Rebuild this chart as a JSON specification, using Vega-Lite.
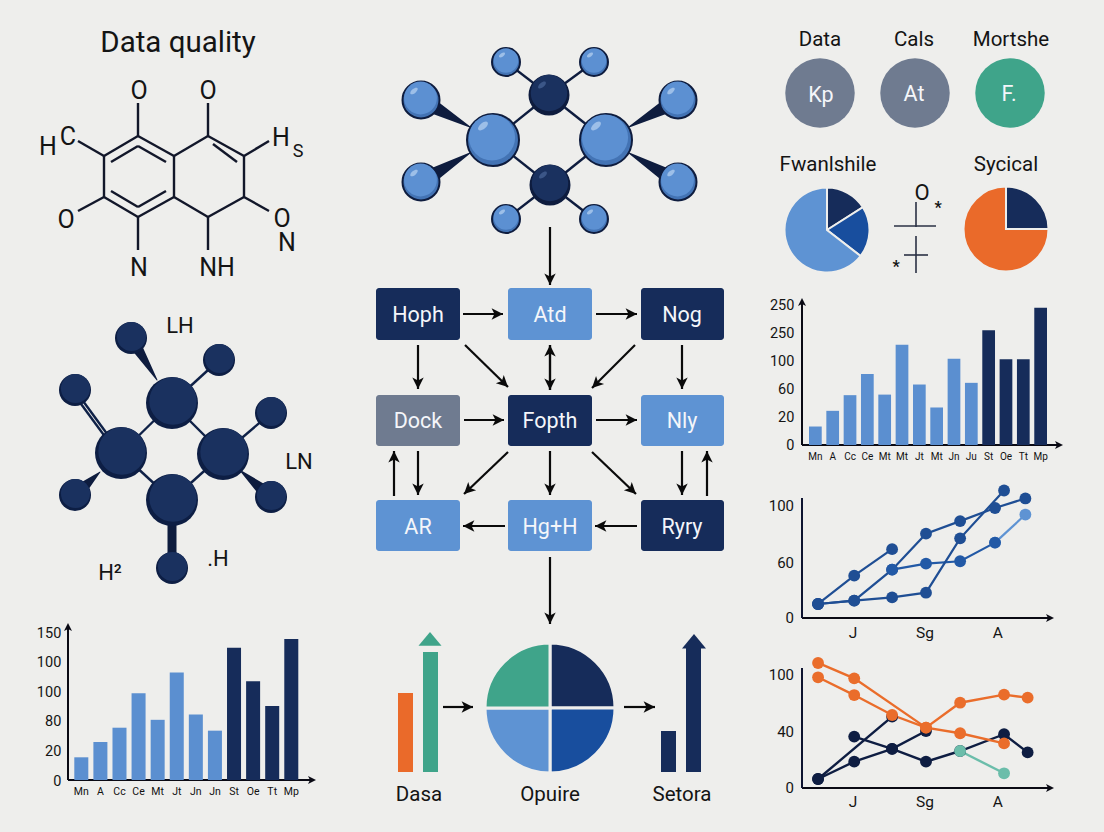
{"$schema":"https://vega.github.io/schema/vega-lite/v6.json","width":1104,"height":832,"padding":0,"autosize":"none","background":"#EEEEEC","config":{"view":{"stroke":null},"point":{"opacity":1,"filled":true},"text":{"font":"Roboto","color":"#141414","dy":1.5}},"resolve":{"scale":{"x":"independent","y":"independent","color":"independent"}},"layer":[
{"encoding":{"x":{"field":"x","type":"quantitative","scale":{"domain":[0,1104],"range":[0,1104]},"axis":null},"y":{"field":"y","type":"quantitative","scale":{"domain":[0,832],"range":[0,832]},"axis":null}},"layer":[
{"data":{"values":[{"x":138,"y":136,"x2":174,"y2":156},{"x":174,"y":156,"x2":174,"y2":197},{"x":174,"y":197,"x2":138,"y2":217},{"x":138,"y":217,"x2":104,"y2":197},{"x":104,"y":197,"x2":104,"y2":156},{"x":104,"y":156,"x2":138,"y2":136},{"x":174,"y":156,"x2":208,"y2":136},{"x":208,"y":136,"x2":244,"y2":156},{"x":244,"y":156,"x2":244,"y2":197},{"x":244,"y":197,"x2":208,"y2":217},{"x":208,"y":217,"x2":174,"y2":197},{"x":111,"y":162,"x2":138,"y2":146},{"x":138,"y":146,"x2":166,"y2":162},{"x":111,"y":191,"x2":138,"y2":207},{"x":166,"y":191,"x2":138,"y2":207},{"x":213,"y":144,"x2":237,"y2":162},{"x":138,"y":103,"x2":138,"y2":136},{"x":208,"y":103,"x2":208,"y2":136},{"x":78,"y":141,"x2":104,"y2":156},{"x":269,"y":141,"x2":244,"y2":156},{"x":78,"y":211,"x2":104,"y2":197},{"x":269,"y":211,"x2":244,"y2":197},{"x":138,"y":250,"x2":138,"y2":217},{"x":208,"y":250,"x2":208,"y2":217}]},"mark":{"type":"rule","color":"#12172A","strokeWidth":2.4},"encoding":{"x2":{"field":"x2"},"y2":{"field":"y2"}}},
{"data":{"values":[{"x":178,"y":41,"t":"Data quality"}]},"mark":{"type":"text","fontSize":29.5},"encoding":{"text":{"field":"t"}}},
{"data":{"values":[{"x":139,"y":89,"t":"O"},{"x":208,"y":89,"t":"O"},{"x":48,"y":145,"t":"H"},{"x":68,"y":135,"t":"C"},{"x":281,"y":136,"t":"H"},{"x":66,"y":218,"t":"O"},{"x":282,"y":217,"t":"O"},{"x":287,"y":241,"t":"N"},{"x":139,"y":266,"t":"N"},{"x":217,"y":266,"t":"NH"}]},"mark":{"type":"text","fontSize":25},"encoding":{"text":{"field":"t"}}},
{"data":{"values":[{"x":298,"y":150,"t":"S"}]},"mark":{"type":"text","fontSize":18},"encoding":{"text":{"field":"t"}}},
{"data":{"values":[{"x":172,"y":403,"x2":121,"y2":453},{"x":172,"y":403,"x2":223,"y2":454},{"x":121,"y":453,"x2":172,"y2":500},{"x":223,"y":454,"x2":172,"y2":500},{"x":172,"y":403,"x2":219,"y2":360},{"x":223,"y":454,"x2":271,"y2":413},{"x":121,"y":453,"x2":75,"y2":390},{"x":117,"y":453,"x2":73,"y2":393}]},"mark":{"type":"rule","color":"#0F2147","strokeWidth":2.4},"encoding":{"x2":{"field":"x2"},"y2":{"field":"y2"}}},
{"data":{"values":[{"id":"a","x":157,"y":380,"w":1},{"id":"a","x":131,"y":338,"w":14},{"id":"b","x":100,"y":472,"w":1},{"id":"b","x":75,"y":495,"w":16},{"id":"c","x":242,"y":472,"w":2},{"id":"c","x":271,"y":497,"w":16},{"id":"d","x":172,"y":520,"w":9},{"id":"d","x":172,"y":568,"w":9},{"id":"e","x":470,"y":127,"w":1},{"id":"e","x":421,"y":100,"w":18},{"id":"f","x":470,"y":153,"w":1},{"id":"f","x":421,"y":182,"w":18},{"id":"g","x":629,"y":127,"w":1},{"id":"g","x":678,"y":100,"w":18},{"id":"h","x":629,"y":153,"w":1},{"id":"h","x":678,"y":182,"w":18}]},"mark":{"type":"trail","color":"#0E1C3E"},"encoding":{"detail":{"field":"id"},"size":{"field":"w","type":"quantitative","scale":null,"legend":null}}},
{"data":{"name":"leftBig","values":[{"x":172,"y":403},{"x":121,"y":453},{"x":223,"y":454},{"x":172,"y":500}]},"mark":{"type":"point","shape":"circle","size":2704,"fill":"#0D1E44"}},
{"data":{"name":"leftBig"},"mark":{"type":"point","shape":"circle","size":2250,"fill":"#1A315F","xOffset":1,"yOffset":-2}},
{"data":{"name":"leftSmall","values":[{"x":131,"y":338},{"x":219,"y":360},{"x":75,"y":390},{"x":271,"y":413},{"x":75,"y":495},{"x":271,"y":497},{"x":172,"y":568}]},"mark":{"type":"point","shape":"circle","size":1024,"fill":"#0D1E44"}},
{"data":{"name":"leftSmall"},"mark":{"type":"point","shape":"circle","size":850,"fill":"#1A315F","xOffset":0.5,"yOffset":-1.5}},
{"data":{"values":[{"x":180,"y":324,"t":"LH"},{"x":299,"y":460,"t":"LN"},{"x":110,"y":571,"t":"H²"},{"x":218,"y":557,"t":".H"}]},"mark":{"type":"text","fontSize":22},"encoding":{"text":{"field":"t"}}},
{"data":{"values":[{"x":493,"y":140,"x2":549,"y2":95},{"x":606,"y":140,"x2":549,"y2":95},{"x":493,"y":140,"x2":550,"y2":185},{"x":606,"y":140,"x2":550,"y2":185},{"x":549,"y":95,"x2":506,"y2":62},{"x":549,"y":95,"x2":594,"y2":62},{"x":550,"y":185,"x2":506,"y2":219},{"x":550,"y":185,"x2":594,"y2":219}]},"mark":{"type":"rule","color":"#0E1C3E","strokeWidth":2.4},"encoding":{"x2":{"field":"x2"},"y2":{"field":"y2"}}},
{"data":{"name":"cBig","values":[{"x":493,"y":140},{"x":606,"y":140}]},"mark":{"type":"point","shape":"circle","size":2704,"fill":"#4373B4","stroke":"#0E1C3E","strokeWidth":2}},
{"data":{"name":"cBig"},"mark":{"type":"point","shape":"circle","size":2130,"fill":"#5C90D2","xOffset":-1,"yOffset":-2.5}},
{"data":{"name":"cBig"},"mark":{"type":"point","shape":"M-1,0A1,0.5 0 1 0 1,0A1,0.5 0 1 0 -1,0Z","size":144,"fill":"#9DBFE8","angle":-40,"xOffset":-10,"yOffset":-14}},
{"data":{"name":"cOut","values":[{"x":421,"y":100},{"x":421,"y":182},{"x":678,"y":100},{"x":678,"y":182}]},"mark":{"type":"point","shape":"circle","size":1369,"fill":"#4373B4","stroke":"#0E1C3E","strokeWidth":2}},
{"data":{"name":"cOut"},"mark":{"type":"point","shape":"circle","size":1080,"fill":"#5C90D2","xOffset":-0.5,"yOffset":-2}},
{"data":{"name":"cOut"},"mark":{"type":"point","shape":"M-1,0A1,0.5 0 1 0 1,0A1,0.5 0 1 0 -1,0Z","size":81,"fill":"#9DBFE8","angle":-40,"xOffset":-7,"yOffset":-9}},
{"data":{"name":"cSmall","values":[{"x":506,"y":62},{"x":594,"y":62},{"x":506,"y":219},{"x":594,"y":219}]},"mark":{"type":"point","shape":"circle","size":784,"fill":"#4373B4","stroke":"#0E1C3E","strokeWidth":2}},
{"data":{"name":"cSmall"},"mark":{"type":"point","shape":"circle","size":600,"fill":"#5C90D2","yOffset":-1.5}},
{"data":{"name":"cSmall"},"mark":{"type":"point","shape":"M-1,0A1,0.5 0 1 0 1,0A1,0.5 0 1 0 -1,0Z","size":49,"fill":"#9DBFE8","angle":-35,"xOffset":-4,"yOffset":-7}},
{"data":{"name":"cDark","values":[{"x":549,"y":95},{"x":550,"y":185}]},"mark":{"type":"point","shape":"circle","size":1681,"fill":"#0E1C3E"}},
{"data":{"name":"cDark"},"mark":{"type":"point","shape":"circle","size":1330,"fill":"#1A315F","yOffset":-2}},
{"data":{"name":"cDark"},"mark":{"type":"point","shape":"M-1,0A1,0.5 0 1 0 1,0A1,0.5 0 1 0 -1,0Z","size":90,"fill":"#3B5687","angle":-40,"xOffset":-7,"yOffset":-10}},
{"data":{"values":[{"x":376,"x2":460,"y":288,"y2":340,"c":"dark"},{"x":508,"x2":592,"y":288,"y2":340,"c":"light"},{"x":641,"x2":724,"y":288,"y2":340,"c":"dark"},{"x":376,"x2":460,"y":395,"y2":446,"c":"grey"},{"x":508,"x2":592,"y":395,"y2":446,"c":"dark"},{"x":641,"x2":724,"y":395,"y2":446,"c":"light"},{"x":376,"x2":460,"y":500,"y2":551,"c":"light"},{"x":508,"x2":592,"y":500,"y2":551,"c":"light"},{"x":641,"x2":724,"y":500,"y2":551,"c":"dark"}]},"mark":{"type":"rect","cornerRadius":3},"encoding":{"x2":{"field":"x2"},"y2":{"field":"y2"},"color":{"field":"c","type":"nominal","scale":{"domain":["dark","light","grey","orange","green"],"range":["#162C5A","#5E93D3","#6F7B90","#EA6A2A","#3FA48A"]},"legend":null}}},
{"data":{"name":"arrows","values":[{"x":550,"y":227,"x2":550,"y2":285,"a":180},{"x":463,"y":314,"x2":503,"y2":314,"a":90},{"x":596,"y":314,"x2":637,"y2":314,"a":90},{"x":418,"y":345,"x2":418,"y2":389,"a":180},{"x":465,"y":345,"x2":508,"y2":387,"a":134},{"x":550,"y":345,"x2":550,"y2":390,"a":180},{"x":550,"y":390,"x2":550,"y2":345,"a":0},{"x":635,"y":345,"x2":592,"y2":388,"a":225},{"x":682,"y":345,"x2":682,"y2":389,"a":180},{"x":464,"y":420,"x2":504,"y2":420,"a":90},{"x":596,"y":420,"x2":637,"y2":420,"a":90},{"x":394,"y":496,"x2":394,"y2":451,"a":0},{"x":418,"y":451,"x2":418,"y2":495,"a":180},{"x":508,"y":452,"x2":464,"y2":494,"a":226},{"x":550,"y":451,"x2":550,"y2":495,"a":180},{"x":592,"y":452,"x2":636,"y2":494,"a":134},{"x":682,"y":451,"x2":682,"y2":495,"a":180},{"x":707,"y":496,"x2":707,"y2":451,"a":0},{"x":505,"y":526,"x2":463,"y2":526,"a":270},{"x":637,"y":526,"x2":595,"y2":526,"a":270},{"x":550,"y":557,"x2":550,"y2":624,"a":180},{"x":443,"y":707,"x2":473,"y2":707,"a":90},{"x":624,"y":707,"x2":655,"y2":707,"a":90}]},"mark":{"type":"rule","color":"#0A0A0A","strokeWidth":2.2},"encoding":{"x2":{"field":"x2"},"y2":{"field":"y2"}}},
{"data":{"name":"arrows"},"mark":{"type":"point","shape":"M0,0L1,2L0,1.5L-1,2Z","size":130,"fill":"#0A0A0A"},"encoding":{"x":{"field":"x2","type":"quantitative"},"y":{"field":"y2","type":"quantitative"},"angle":{"field":"a","type":"quantitative","scale":null}}},
{"data":{"values":[{"x":398,"x2":413,"y":693,"y2":772,"c":"orange"},{"x":423,"x2":438,"y":652,"y2":772,"c":"green"},{"x":661,"x2":676,"y":731,"y2":772,"c":"dark"},{"x":686,"x2":701,"y":648,"y2":772,"c":"dark"}]},"mark":{"type":"rect"},"encoding":{"x2":{"field":"x2"},"y2":{"field":"y2"},"color":{"field":"c","type":"nominal","scale":{"domain":["dark","light","grey","orange","green"],"range":["#162C5A","#5E93D3","#6F7B90","#EA6A2A","#3FA48A"]},"legend":null}}},
{"data":{"values":[{"x":430,"y":632}]},"mark":{"type":"point","shape":"M0,0L1,1.2L-1,1.2Z","size":529,"fill":"#3FA48A"}},
{"data":{"values":[{"x":694,"y":634}]},"mark":{"type":"point","shape":"M0,0L1,1.2L-1,1.2Z","size":576,"fill":"#162C5A"}},
{"data":{"values":[{"x":419,"y":793,"t":"Dasa"},{"x":550,"y":793,"t":"Opuire"},{"x":682,"y":793,"t":"Setora"},{"x":820,"y":38,"t":"Data"},{"x":914,"y":38,"t":"Cals"},{"x":1011,"y":38,"t":"Mortshe"},{"x":828,"y":163,"t":"Fwanlshile"},{"x":1006,"y":163,"t":"Sycical"}]},"mark":{"type":"text","fontSize":20.5},"encoding":{"text":{"field":"t"}}},
{"data":{"values":[{"x":820,"y":93,"c":"grey"},{"x":915,"y":93,"c":"grey"},{"x":1010,"y":93,"c":"green"}]},"mark":{"type":"point","shape":"circle","size":4830},"encoding":{"color":{"field":"c","type":"nominal","scale":{"domain":["dark","light","grey","orange","green"],"range":["#162C5A","#5E93D3","#6F7B90","#EA6A2A","#3FA48A"]},"legend":null}}},
{"data":{"values":[{"x":418,"y":314,"t":"Hoph"},{"x":550,"y":314,"t":"Atd"},{"x":682,"y":314,"t":"Nog"},{"x":418,"y":420,"t":"Dock"},{"x":550,"y":420,"t":"Fopth"},{"x":682,"y":420,"t":"Nly"},{"x":418,"y":526,"t":"AR"},{"x":550,"y":526,"t":"Hg+H"},{"x":682,"y":526,"t":"Ryry"},{"x":821,"y":94,"t":"Kp"},{"x":914,"y":93,"t":"At"},{"x":1009,"y":93,"t":"F."}]},"mark":{"type":"text","fontSize":21.5,"color":"#F4F6FA"},"encoding":{"text":{"field":"t"}}},
{"data":{"values":[{"x":916,"y":202,"x2":916,"y2":227},{"x":894,"y":226,"x2":936,"y2":226},{"x":916,"y":236,"x2":916,"y2":273},{"x":904,"y":255,"x2":928,"y2":255}]},"mark":{"type":"rule","color":"#2A3045","strokeWidth":1.6},"encoding":{"x2":{"field":"x2"},"y2":{"field":"y2"}}},
{"data":{"values":[{"x":922,"y":191,"t":"O"}]},"mark":{"type":"text","fontSize":22},"encoding":{"text":{"field":"t"}}},
{"data":{"values":[{"x":938,"y":206,"t":"*"},{"x":896,"y":265,"t":"*"}]},"mark":{"type":"text","fontSize":16,"fontWeight":700},"encoding":{"text":{"field":"t"}}},
{"data":{"name":"axes","values":[{"x":68,"y":780,"x2":68,"y2":626,"a":0},{"x":68,"y":780,"x2":314,"y2":780,"a":90},{"x":802,"y":445,"x2":802,"y2":300,"a":0},{"x":802,"y":445,"x2":1061,"y2":445,"a":90},{"x":802,"y":618,"x2":1052,"y2":618,"a":90},{"x":802,"y":788,"x2":1052,"y2":788,"a":90}]},"mark":{"type":"rule","color":"#0A0A14","strokeWidth":2},"encoding":{"x2":{"field":"x2"},"y2":{"field":"y2"}}},
{"data":{"values":[{"x":802,"y":618,"x2":802,"y2":498},{"x":802,"y":788,"x2":802,"y2":668}]},"mark":{"type":"rule","color":"#0E1430","strokeWidth":2},"encoding":{"x2":{"field":"x2"},"y2":{"field":"y2"}}},
{"data":{"values":[{"x":68,"y":623,"a":0},{"x":316,"y":780,"a":90},{"x":802,"y":298,"a":0},{"x":1063,"y":445,"a":90},{"x":1054,"y":618,"a":90},{"x":1054,"y":788,"a":90}]},"mark":{"type":"point","shape":"M0,0L1,2L0,1.5L-1,2Z","size":64,"fill":"#0A0A14"},"encoding":{"angle":{"field":"a","type":"quantitative","scale":null}}}
]},
{"data":{"values":[{"x":550,"y":708,"t0":0,"t1":0.25,"c":"dark"},{"x":550,"y":708,"t0":0.25,"t1":0.5,"c":"mid"},{"x":550,"y":708,"t0":0.5,"t1":0.75,"c":"light"},{"x":550,"y":708,"t0":0.75,"t1":1,"c":"green"}]},"mark":{"type":"arc","radius":65,"stroke":"#EEEEEC","strokeWidth":3},"encoding":{"x":{"field":"x","type":"quantitative","scale":{"domain":[0,1104],"range":[0,1104]},"axis":null},"y":{"field":"y","type":"quantitative","scale":{"domain":[0,832],"range":[0,832]},"axis":null},"theta":{"field":"t0","type":"quantitative","scale":{"domain":[0,1],"range":[0,6.2832]}},"theta2":{"field":"t1"},"color":{"field":"c","type":"nominal","scale":{"domain":["dark","mid","light","green"],"range":["#162C5A","#184E9E","#5E93D3","#3FA48A"]},"legend":null}}},
{"data":{"values":[{"x":827,"y":230,"t0":0,"t1":0.16,"c":"dark"},{"x":827,"y":230,"t0":0.16,"t1":0.355,"c":"mid"},{"x":827,"y":230,"t0":0.355,"t1":1,"c":"light"}]},"mark":{"type":"arc","radius":42.5,"stroke":"#EEEEEC","strokeWidth":2},"encoding":{"x":{"field":"x","type":"quantitative","scale":{"domain":[0,1104],"range":[0,1104]},"axis":null},"y":{"field":"y","type":"quantitative","scale":{"domain":[0,832],"range":[0,832]},"axis":null},"theta":{"field":"t0","type":"quantitative","scale":{"domain":[0,1],"range":[0,6.2832]}},"theta2":{"field":"t1"},"color":{"field":"c","type":"nominal","scale":{"domain":["dark","mid","light"],"range":["#162C5A","#184E9E","#5E93D3"]},"legend":null}}},
{"data":{"values":[{"x":1006,"y":229,"t0":0,"t1":0.25,"c":"dark"},{"x":1006,"y":229,"t0":0.25,"t1":1,"c":"orange"}]},"mark":{"type":"arc","radius":42.5,"stroke":"#EEEEEC","strokeWidth":2},"encoding":{"x":{"field":"x","type":"quantitative","scale":{"domain":[0,1104],"range":[0,1104]},"axis":null},"y":{"field":"y","type":"quantitative","scale":{"domain":[0,832],"range":[0,832]},"axis":null},"theta":{"field":"t0","type":"quantitative","scale":{"domain":[0,1],"range":[0,6.2832]}},"theta2":{"field":"t1"},"color":{"field":"c","type":"nominal","scale":{"domain":["dark","orange"],"range":["#162C5A","#EA6A2A"]},"legend":null}}},
{"encoding":{"x":{"field":"m","type":"ordinal","scale":{"type":"band","domain":["1","2","3","4","5","6","7","8","9","10","11","12"],"range":[74.3,298.3],"paddingInner":0.266,"paddingOuter":0},"axis":null},"y":{"field":"v","type":"quantitative","scale":{"domain":[0,150],"range":[780,632]},"axis":null}},"layer":[
{"data":{"name":"barsA","values":[{"m":"1","lab":"Mn","v":23,"g":"a"},{"m":"2","lab":"A","v":38.5,"g":"a"},{"m":"3","lab":"Cc","v":53,"g":"a"},{"m":"4","lab":"Ce","v":88,"g":"a"},{"m":"5","lab":"Mt","v":61,"g":"a"},{"m":"6","lab":"Jt","v":109,"g":"a"},{"m":"7","lab":"Jn","v":66.5,"g":"a"},{"m":"8","lab":"Jn","v":50,"g":"a"},{"m":"9","lab":"St","v":134,"g":"b"},{"m":"10","lab":"Oe","v":100,"g":"b"},{"m":"11","lab":"Tt","v":75,"g":"b"},{"m":"12","lab":"Mp","v":143,"g":"b"}]},"mark":{"type":"bar"},"encoding":{"color":{"field":"g","type":"nominal","scale":{"domain":["a","b"],"range":["#5B8FD0","#162C5A"]},"legend":null}}},
{"data":{"name":"barsA"},"mark":{"type":"text","fontSize":10.5,"dy":12,"color":"#111"},"encoding":{"y":{"datum":0},"text":{"field":"lab"}}},
{"data":{"values":[{"m":"1","v":0,"lab":"0"},{"m":"1","v":30,"lab":"20"},{"m":"1","v":60,"lab":"80"},{"m":"1","v":90,"lab":"100"},{"m":"1","v":120,"lab":"100"},{"m":"1","v":150,"lab":"150"}]},"mark":{"type":"text","fontSize":14.5,"align":"right","dx":-20},"encoding":{"text":{"field":"lab"}}}
]},
{"encoding":{"x":{"field":"m","type":"ordinal","scale":{"type":"band","domain":["1","2","3","4","5","6","7","8","9","10","11","12","13","14"],"range":[809,1047],"paddingInner":0.266,"paddingOuter":0},"axis":null},"y":{"field":"v","type":"quantitative","scale":{"domain":[0,250],"range":[445,305]},"axis":null}},"layer":[
{"data":{"name":"barsB","values":[{"m":"1","lab":"Mn","v":33,"g":"a"},{"m":"2","lab":"A","v":61,"g":"a"},{"m":"3","lab":"Cc","v":89,"g":"a"},{"m":"4","lab":"Ce","v":127,"g":"a"},{"m":"5","lab":"Mt","v":90,"g":"a"},{"m":"6","lab":"Mt","v":179,"g":"a"},{"m":"7","lab":"Jt","v":108,"g":"a"},{"m":"8","lab":"Mt","v":67,"g":"a"},{"m":"9","lab":"Jn","v":154,"g":"a"},{"m":"10","lab":"Ju","v":111,"g":"a"},{"m":"11","lab":"St","v":205,"g":"b"},{"m":"12","lab":"Oe","v":153,"g":"b"},{"m":"13","lab":"Tt","v":153,"g":"b"},{"m":"14","lab":"Mp","v":245,"g":"b"}]},"mark":{"type":"bar"},"encoding":{"color":{"field":"g","type":"nominal","scale":{"domain":["a","b"],"range":["#5B8FD0","#162C5A"]},"legend":null}}},
{"data":{"name":"barsB"},"mark":{"type":"text","fontSize":10,"dy":12,"color":"#111"},"encoding":{"y":{"datum":0},"text":{"field":"lab"}}},
{"data":{"values":[{"m":"1","v":0,"lab":"0"},{"m":"1","v":50,"lab":"20"},{"m":"1","v":100,"lab":"60"},{"m":"1","v":150,"lab":"100"},{"m":"1","v":200,"lab":"250"},{"m":"1","v":250,"lab":"250"}]},"mark":{"type":"text","fontSize":14.5,"align":"right","dx":-21,"dy":0.5},"encoding":{"text":{"field":"lab"}}}
]},
{"encoding":{"x":{"field":"t","type":"quantitative","scale":{"domain":[0,100],"range":[802,1053]},"axis":null},"y":{"field":"v","type":"quantitative","scale":{"domain":[0,60,100],"range":[618,563,506]},"axis":null}},"layer":[
{"data":{"name":"lineA","values":[{"s":"E","t":76.9,"v":74.3},{"s":"E","t":89,"v":94},{"s":"A","t":6.4,"v":15.3},{"s":"A","t":20.8,"v":46.2},{"s":"A","t":35.9,"v":69.7},{"s":"B","t":6.4,"v":15.3},{"s":"B","t":20.8,"v":18.9},{"s":"B","t":35.9,"v":52.7},{"s":"B","t":49.4,"v":80.6},{"s":"B","t":63,"v":89.4},{"s":"B","t":76.9,"v":98.6},{"s":"B","t":89,"v":105.3},{"s":"C","t":35.9,"v":52.7},{"s":"C","t":49.4,"v":59.3},{"s":"C","t":63,"v":61.2},{"s":"C","t":76.9,"v":74.3},{"s":"D","t":6.4,"v":15.3},{"s":"D","t":20.8,"v":18.9},{"s":"D","t":35.9,"v":22.5},{"s":"D","t":49.4,"v":27.6},{"s":"D","t":63,"v":77.3},{"s":"D","t":80.5,"v":110.9}]},"mark":{"type":"line","strokeWidth":2.2},"encoding":{"color":{"field":"s","type":"nominal","scale":{"domain":["A","B","C","D","E"],"range":["#1F4E94","#1F4E94","#2259A6","#1F4E94","#5E93D3"]},"legend":null}}},
{"data":{"name":"lineA"},"mark":{"type":"point","shape":"circle","size":140},"encoding":{"color":{"field":"s","type":"nominal","scale":{"domain":["A","B","C","D","E"],"range":["#1F4E94","#1F4E94","#2259A6","#1F4E94","#5E93D3"]},"legend":null}}},
{"data":{"values":[{"t":0,"v":0,"lab":"0"},{"t":0,"v":60,"lab":"60"},{"t":0,"v":100,"lab":"100"}]},"mark":{"type":"text","fontSize":15,"align":"right","dx":-8,"dy":0},"encoding":{"text":{"field":"lab"}}},
{"data":{"values":[{"t":20.3,"v":0,"lab":"J"},{"t":49,"v":0,"lab":"Sg"},{"t":78,"v":0,"lab":"A"}]},"mark":{"type":"text","fontSize":15.5,"dy":15},"encoding":{"text":{"field":"lab"}}}
]},
{"encoding":{"x":{"field":"t","type":"quantitative","scale":{"domain":[0,100],"range":[802,1053]},"axis":null},"y":{"field":"v","type":"quantitative","scale":{"domain":[0,40,100],"range":[787.7,732.3,675]},"axis":null}},"layer":[
{"data":{"name":"lineB","values":[{"s":"D1","t":6.4,"v":6.3},{"s":"D1","t":35.9,"v":56.4},{"s":"D2","t":6.4,"v":6.3},{"s":"D2","t":20.8,"v":18.8},{"s":"D2","t":35.9,"v":28},{"s":"D2","t":49.4,"v":41.4},{"s":"D3","t":20.8,"v":36.9},{"s":"D3","t":35.9,"v":28},{"s":"D3","t":49.4,"v":18.8},{"s":"D3","t":63,"v":26.5},{"s":"D3","t":80.5,"v":38.6},{"s":"D3","t":89.9,"v":25.5},{"s":"T","t":63,"v":26.5},{"s":"T","t":80.5,"v":10.4},{"s":"O1","t":6.4,"v":112.6},{"s":"O1","t":20.8,"v":96.5},{"s":"O1","t":49.4,"v":44.9},{"s":"O1","t":63,"v":71},{"s":"O1","t":80.5,"v":79.4},{"s":"O1","t":89.9,"v":76.3},{"s":"O2","t":6.4,"v":97.6},{"s":"O2","t":20.8,"v":79},{"s":"O2","t":35.9,"v":58.1},{"s":"O2","t":49.4,"v":44.9},{"s":"O2","t":63,"v":39.3},{"s":"O2","t":80.5,"v":32}]},"mark":{"type":"line","strokeWidth":2.4},"encoding":{"color":{"field":"s","type":"nominal","scale":{"domain":["D1","D2","D3","T","O1","O2"],"range":["#0E1D42","#0E1D42","#0E1D42","#6BBDAA","#EA6D2B","#EA6D2B"]},"legend":null}}},
{"data":{"name":"lineB"},"mark":{"type":"point","shape":"circle","size":140},"encoding":{"color":{"field":"s","type":"nominal","scale":{"domain":["D1","D2","D3","T","O1","O2"],"range":["#0E1D42","#0E1D42","#0E1D42","#6BBDAA","#EA6D2B","#EA6D2B"]},"legend":null}}},
{"data":{"values":[{"t":0,"v":0,"lab":"0"},{"t":0,"v":40,"lab":"40"},{"t":0,"v":100,"lab":"100"}]},"mark":{"type":"text","fontSize":15,"align":"right","dx":-8,"dy":0},"encoding":{"text":{"field":"lab"}}},
{"data":{"values":[{"t":20.3,"v":0,"lab":"J"},{"t":49,"v":0,"lab":"Sg"},{"t":78,"v":0,"lab":"A"}]},"mark":{"type":"text","fontSize":15.5,"dy":14},"encoding":{"text":{"field":"lab"}}}
]}
]}
